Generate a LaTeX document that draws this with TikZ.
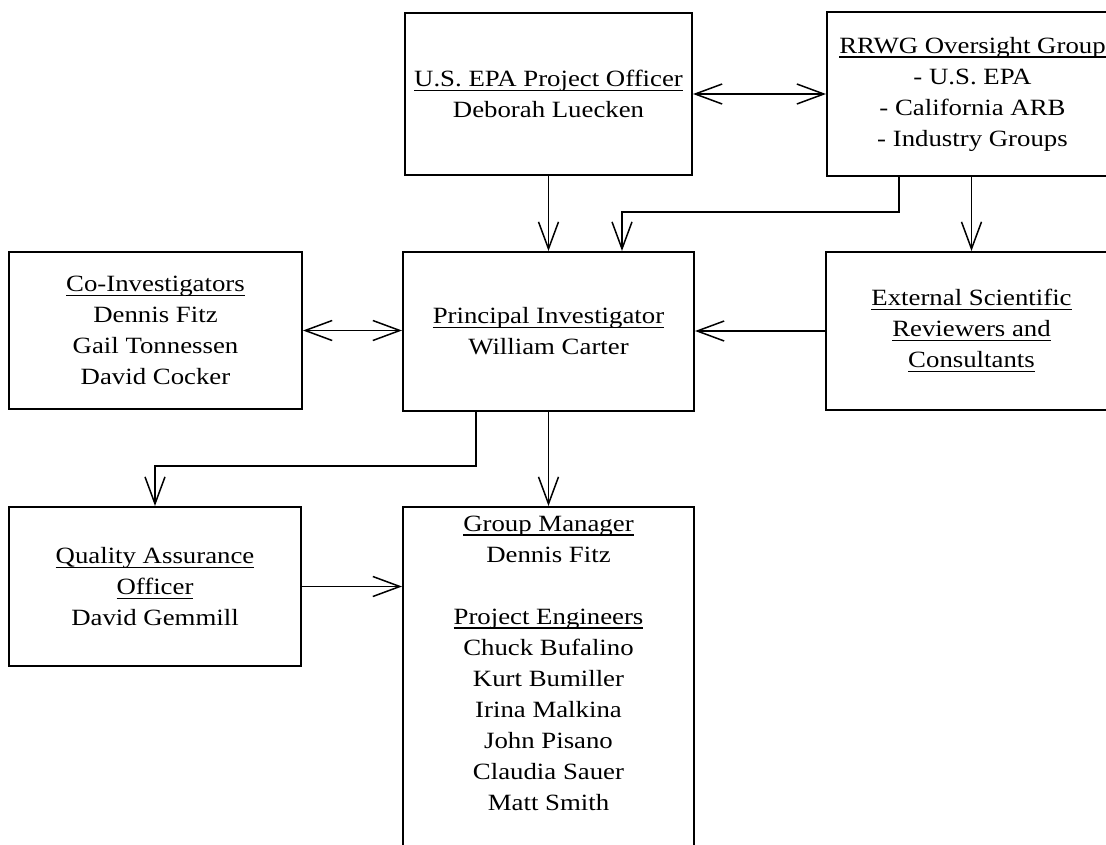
\documentclass[tikz,border=0pt]{standalone}
\usepackage{fontspec}
\setmainfont{Liberation Serif}[FakeStretch=1.15]
\usetikzlibrary{arrows.meta}
\newcommand{\ulx}[1]{\sbox0{#1}\rlap{\rule[-4.5pt]{\wd0}{1.4pt}}\box0}
\begin{document}
\begin{tikzpicture}[x=1pt,y=-1pt,
  txt/.style={font=\fontsize{23.3}{31}\selectfont, align=center},
  box/.style={txt, draw, line width=2pt, rectangle, minimum width=291pt, inner sep=0pt},
  conn/.style={line width=1.5pt, -{Straight Barb[length=27pt,width=20pt]}},
  both/.style={line width=1.5pt, {Straight Barb[length=27pt,width=20pt]}-{Straight Barb[length=27pt,width=20pt]}}]
\useasboundingbox (0,0) rectangle (1106,844);
\clip (0,0) rectangle (1106,844);
\node[box, minimum width=287pt, minimum height=162pt] (epa) at (548.5,94) {\ulx{U.S. EPA Project Officer}\\Deborah Luecken};
\node[box, minimum height=164pt] (rrwg) at (972.5,94) {\ulx{RRWG Oversight Group}\\- U.S. EPA\\- California ARB\\- Industry Groups};
\node[box, minimum width=293pt, minimum height=157pt] (co) at (155.5,330.5) {\ulx{Co-Investigators}\\Dennis Fitz\\Gail Tonnessen\\David Cocker};
\node[box, minimum height=159pt] (pi) at (548.5,331.5) {\ulx{Principal Investigator}\\William Carter};
\node[box, minimum height=158pt] (ext) at (971.5,331) {\ulx{External Scientific}\\\ulx{Reviewers and}\\\ulx{Consultants}};
\node[box, minimum width=292pt, minimum height=159pt] (qa) at (155,586.5) {\ulx{Quality Assurance}\\\ulx{Officer}\\David Gemmill};
\node[box, minimum height=393pt] (gm) at (548.5,703.5) {};
\node[txt, anchor=north, inner sep=0pt] (gmtext) at (548.5,515.5) {\ulx{Group Manager}\\Dennis Fitz\\[31pt]\ulx{Project Engineers}\\Chuck Bufalino\\Kurt Bumiller\\Irina Malkina\\John Pisano\\Claudia Sauer\\Matt Smith};
\coordinate (rt) at (899,212);
\coordinate (pt) at (622,212);
\coordinate (qt) at (476,466);
\draw[both] (epa.east) -- (epa.east -| rrwg.west);
\draw[conn] (epa.south) -- (pi.north);
\draw[conn] (rt |- rrwg.south) -- (rt) -- (pt) -- (pt |- pi.north);
\draw[conn] (ext.north |- rrwg.south) -- (ext.north);
\draw[both] (co.east) -- (co.east -| pi.west);
\draw[conn] (ext.west) -- (ext.west -| pi.east);
\draw[conn] (qt |- pi.south) -- (qt) -| (qa.north);
\draw[conn] (pi.south) -- (gm.north);
\draw[conn] (qa.east) -- (qa.east -| gm.west);
\end{tikzpicture}
\end{document}
